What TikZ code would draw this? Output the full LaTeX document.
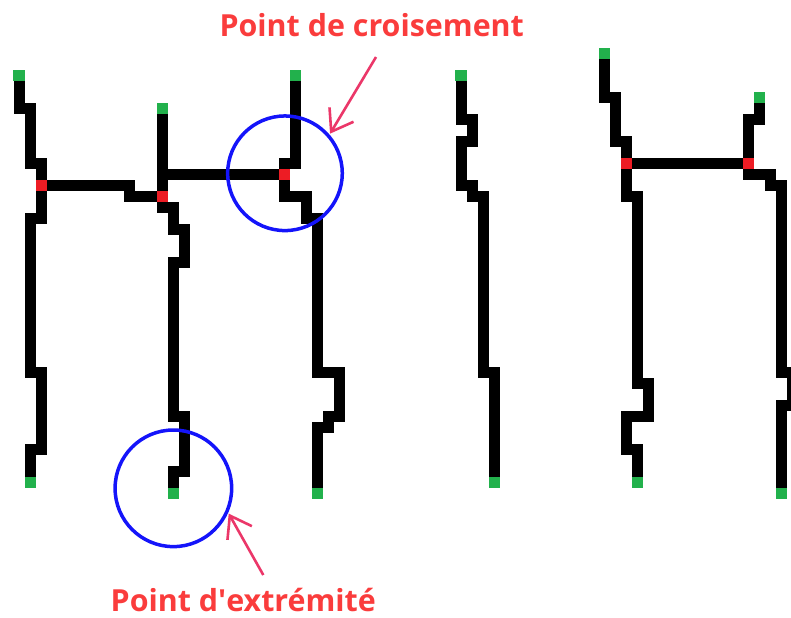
\documentclass[tikz,border=0pt]{standalone}
\usepackage{fontspec}
\newfontfamily\lblfont{Open Sans}
\usetikzlibrary{positioning}
\usetikzlibrary{arrows.meta}
\definecolor{pixgreen}{RGB}{34,177,76}
\definecolor{pixred}{RGB}{237,28,36}
\definecolor{ringblue}{RGB}{20,20,250}
\definecolor{lblred}{RGB}{250,60,60}
\definecolor{arrowpink}{RGB}{235,55,105}

\begin{document}
\begin{tikzpicture}[x=5.525pt,y=-5.5pt,
  skel/.style={line width=5.5pt,line cap=rect,line join=miter},
  endpix/.style={fill=pixgreen},
  crosspix/.style={fill=pixred},
  ring/.style={circle,draw=ringblue,line width=1.75pt,inner sep=0pt},
  lbl/.style={text=lblred,font=\lblfont\bfseries\fontsize{15.2}{18}\selectfont,inner sep=0pt,anchor=base},
  pointer/.style={draw=arrowpink,line width=1.3pt,-{Straight Barb[length=10pt,width=14pt]}}]

  \useasboundingbox (-1.7195,-6.882) rectangle (69.864,49.21);
  \clip (-1.7195,-6.882) rectangle (69.864,49.21);

  % skeleton lines, one cell wide
  \draw[skel] (0,0) -- (0,3) -- (1,3) -- (1,8) -- (2,8) -- (2,13) -- (1,13) -- (1,27) -- (2,27) -- (2,34) -- (1,34) -- (1,37);
  \draw[skel] (2,10) -- (10,10) -- (10,11) -- (13,11);
  \draw[skel] (13,3) -- (13,12) -- (14,12) -- (14,14) -- (15,14) -- (15,17) -- (14,17) -- (14,31) -- (15,31) -- (15,36) -- (14,36) -- (14,38);
  \draw[skel] (13,9) -- (24,9);
  \draw[skel] (25,0) -- (25,8) -- (24,8) -- (24,11) -- (26,11) -- (26,13) -- (27,13) -- (27,27) -- (29,27) -- (29,31) -- (28,31) -- (28,32) -- (27,32) -- (27,38);
  \draw[skel] (40,0) -- (40,4) -- (41,4) -- (41,6) -- (40,6) -- (40,10) -- (41,10) -- (41,11) -- (42,11) -- (42,27) -- (43,27) -- (43,37);
  \draw[skel] (53,-2) -- (53,2) -- (54,2) -- (54,6) -- (55,6) -- (55,11) -- (56,11) -- (56,28) -- (57,28) -- (57,31) -- (55,31) -- (55,34) -- (56,34) -- (56,37);
  \draw[skel] (55,8) -- (66,8);
  \draw[skel] (67,2) -- (67,4) -- (66,4) -- (66,9) -- (68,9) -- (68,10) -- (69,10) -- (69,27) -- (70,27) -- (70,30) -- (69,30) -- (69,38);

  % end points
  \fill[endpix] (0,0) +(-.5,-.5) rectangle +(.5,.5);
  \fill[endpix] (1,37) +(-.5,-.5) rectangle +(.5,.5);
  \fill[endpix] (13,3) +(-.5,-.5) rectangle +(.5,.5);
  \fill[endpix] (14,38) +(-.5,-.5) rectangle +(.5,.5);
  \fill[endpix] (25,0) +(-.5,-.5) rectangle +(.5,.5);
  \fill[endpix] (27,38) +(-.5,-.5) rectangle +(.5,.5);
  \fill[endpix] (40,0) +(-.5,-.5) rectangle +(.5,.5);
  \fill[endpix] (43,37) +(-.5,-.5) rectangle +(.5,.5);
  \fill[endpix] (53,-2) +(-.5,-.5) rectangle +(.5,.5);
  \fill[endpix] (56,37) +(-.5,-.5) rectangle +(.5,.5);
  \fill[endpix] (67,2) +(-.5,-.5) rectangle +(.5,.5);
  \fill[endpix] (69,38) +(-.5,-.5) rectangle +(.5,.5);

  % crossing points
  \fill[crosspix] (2,10) +(-.5,-.5) rectangle +(.5,.5);
  \fill[crosspix] (13,11) +(-.5,-.5) rectangle +(.5,.5);
  \fill[crosspix] (24,9) +(-.5,-.5) rectangle +(.5,.5);
  \fill[crosspix] (55,8) +(-.5,-.5) rectangle +(.5,.5);
  \fill[crosspix] (66,8) +(-.5,-.5) rectangle +(.5,.5);

  \node[ring,minimum size=57.3pt] (cross) at (24.07,8.87) {};
  \node[ring,minimum size=58.3pt] (endpt) at (13.97,37.51) {};

  \node[lbl] (crosslbl) at (31.92,-3.545) {Point de croisement};
  \node[lbl] (endlbl) at (20.3,48.73) {Point d\textquotesingle extrémité};

  \draw[pointer,shorten >=0.5pt] ([xshift=2.15pt,yshift=-10.15pt]crosslbl.base) -- (cross.41);
  \draw[pointer,shorten >=0.5pt] ([xshift=10pt,yshift=18.35pt]endlbl.base) -- (endpt.-24);
\end{tikzpicture}
\end{document}
